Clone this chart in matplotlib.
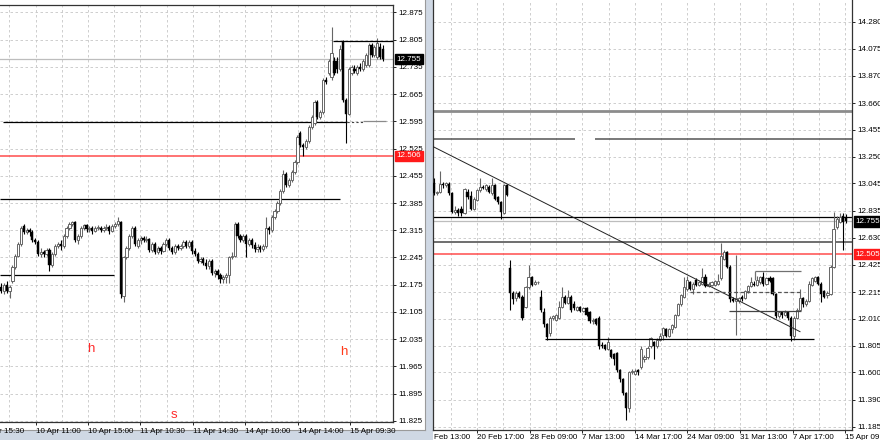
import matplotlib
matplotlib.use("Agg")
import matplotlib.pyplot as plt
from matplotlib.lines import Line2D
from matplotlib.patches import Rectangle
import numpy as np


# ---- left window: intraday candles ----
left_open = [
    12.17, 12.16, 12.175, 12.16, 12.185, 12.22, 12.25, 12.28, 12.325, 12.31,
    12.315, 12.31, 12.29, 12.285, 12.255, 12.26, 12.255, 12.265, 12.225, 12.255,
    12.275, 12.28, 12.275, 12.30, 12.32, 12.33, 12.335, 12.29, 12.30, 12.32,
    12.328, 12.318, 12.32, 12.314, 12.32, 12.322, 12.316, 12.32, 12.324, 12.314,
    12.325, 12.33, 12.335, 12.145, 12.245, 12.27, 12.30, 12.32, 12.275, 12.29,
    12.295, 12.29, 12.292, 12.265, 12.28, 12.26, 12.27, 12.262, 12.28, 12.29,
    12.27, 12.26, 12.275, 12.27, 12.275, 12.285, 12.275, 12.285, 12.262, 12.255,
    12.235, 12.24, 12.232, 12.222, 12.235, 12.205, 12.21, 12.2, 12.19, 12.195,
    12.2, 12.245, 12.25, 12.33, 12.30, 12.29, 12.30, 12.28, 12.29, 12.278,
    12.268, 12.272, 12.268, 12.275, 12.32, 12.315, 12.35, 12.365, 12.385, 12.415,
    12.46, 12.43, 12.445, 12.465, 12.49, 12.565, 12.535, 12.53, 12.545, 12.58,
    12.59, 12.645, 12.605, 12.62, 12.70, 12.72, 12.71, 12.75, 12.75, 12.73,
    12.80, 12.65, 12.615, 12.72, 12.73, 12.72, 12.735, 12.73, 12.74, 12.74,
    12.79, 12.765, 12.76, 12.785, 12.78,
]
left_high = [
    12.18, 12.18, 12.185, 12.175, 12.225, 12.255, 12.285, 12.325, 12.33, 12.32,
    12.32, 12.315, 12.295, 12.29, 12.27, 12.265, 12.27, 12.27, 12.26, 12.28,
    12.285, 12.29, 12.305, 12.325, 12.335, 12.34, 12.34, 12.305, 12.325, 12.33,
    12.332, 12.325, 12.325, 12.325, 12.328, 12.326, 12.325, 12.33, 12.328, 12.33,
    12.335, 12.35, 12.34, 12.25, 12.275, 12.305, 12.325, 12.325, 12.295, 12.30,
    12.30, 12.30, 12.295, 12.285, 12.285, 12.275, 12.275, 12.285, 12.295, 12.295,
    12.275, 12.28, 12.28, 12.28, 12.29, 12.29, 12.29, 12.29, 12.27, 12.26,
    12.245, 12.245, 12.24, 12.24, 12.24, 12.215, 12.215, 12.205, 12.2, 12.205,
    12.25, 12.26, 12.335, 12.335, 12.305, 12.305, 12.305, 12.295, 12.295, 12.285,
    12.28, 12.278, 12.28, 12.35, 12.325, 12.355, 12.37, 12.39, 12.42, 12.47,
    12.465, 12.45, 12.47, 12.495, 12.56, 12.57, 12.54, 12.55, 12.585, 12.61,
    12.65, 12.65, 12.625, 12.705, 12.71, 12.755, 12.837, 12.76, 12.76, 12.79,
    12.805, 12.655, 12.735, 12.74, 12.74, 12.74, 12.745, 12.755, 12.77, 12.795,
    12.795, 12.79, 12.81, 12.795, 12.79,
]
left_low = [
    12.155, 12.15, 12.155, 12.14, 12.18, 12.215, 12.245, 12.275, 12.305, 12.305,
    12.30, 12.285, 12.28, 12.25, 12.245, 12.245, 12.25, 12.21, 12.22, 12.25,
    12.27, 12.265, 12.27, 12.295, 12.315, 12.325, 12.285, 12.28, 12.295, 12.315,
    12.31, 12.31, 12.305, 12.31, 12.315, 12.31, 12.31, 12.315, 12.305, 12.31,
    12.32, 12.325, 12.14, 12.13, 12.24, 12.265, 12.295, 12.275, 12.27, 12.28,
    12.285, 12.285, 12.26, 12.26, 12.255, 12.255, 12.255, 12.26, 12.275, 12.265,
    12.255, 12.255, 12.265, 12.265, 12.27, 12.27, 12.27, 12.255, 12.25, 12.23,
    12.23, 12.225, 12.215, 12.215, 12.2, 12.195, 12.19, 12.18, 12.18, 12.18,
    12.18, 12.24, 12.245, 12.295, 12.285, 12.285, 12.245, 12.275, 12.27, 12.26,
    12.26, 12.26, 12.262, 12.27, 12.305, 12.31, 12.345, 12.36, 12.38, 12.41,
    12.425, 12.425, 12.44, 12.46, 12.485, 12.53, 12.505, 12.525, 12.54, 12.575,
    12.585, 12.60, 12.60, 12.615, 12.69, 12.715, 12.70, 12.715, 12.72, 12.725,
    12.645, 12.54, 12.61, 12.715, 12.72, 12.715, 12.725, 12.725, 12.735, 12.735,
    12.76, 12.76, 12.755, 12.755, 12.75,
]
left_close = [
    12.16, 12.175, 12.16, 12.17, 12.22, 12.25, 12.28, 12.32, 12.31, 12.315,
    12.31, 12.29, 12.285, 12.255, 12.26, 12.255, 12.265, 12.225, 12.255, 12.275,
    12.28, 12.275, 12.30, 12.32, 12.33, 12.335, 12.29, 12.30, 12.32, 12.328,
    12.318, 12.32, 12.314, 12.32, 12.322, 12.316, 12.32, 12.324, 12.314, 12.325,
    12.33, 12.34, 12.15, 12.245, 12.27, 12.30, 12.32, 12.28, 12.29, 12.295,
    12.29, 12.292, 12.265, 12.28, 12.26, 12.27, 12.262, 12.28, 12.29, 12.27,
    12.26, 12.275, 12.27, 12.275, 12.285, 12.275, 12.285, 12.262, 12.255, 12.235,
    12.24, 12.232, 12.222, 12.235, 12.205, 12.21, 12.2, 12.19, 12.195, 12.2,
    12.245, 12.25, 12.33, 12.30, 12.29, 12.30, 12.28, 12.29, 12.278, 12.268,
    12.272, 12.268, 12.275, 12.32, 12.315, 12.35, 12.365, 12.385, 12.415, 12.46,
    12.43, 12.445, 12.465, 12.49, 12.555, 12.535, 12.53, 12.545, 12.58, 12.605,
    12.645, 12.605, 12.62, 12.70, 12.695, 12.75, 12.77, 12.72, 12.73, 12.78,
    12.65, 12.615, 12.73, 12.735, 12.725, 12.735, 12.73, 12.75, 12.765, 12.79,
    12.765, 12.785, 12.795, 12.76, 12.755,
]

# ---- right window: longer-term candles ----
right_open = [
    13.05, 12.97, 12.98, 13.04, 13.03, 13.04, 12.97, 12.83, 12.84, 12.85,
    12.82, 12.98, 12.95, 12.85, 12.92, 12.995, 13.02, 13.00, 13.02, 12.97,
    13.03, 12.94, 12.90, 12.82, 13.03, 12.40, 12.21, 12.17, 12.21, 12.18,
    12.10, 12.25, 12.33, 12.28, 12.29, 12.18, 12.06, 11.97, 11.90, 12.02,
    12.00, 12.02, 12.10, 12.18, 12.13, 12.18, 12.12, 12.08, 12.10, 12.07,
    12.09, 12.06, 11.99, 12.01, 12.02, 11.81, 11.81, 11.78, 11.77, 11.74,
    11.75, 11.62, 11.55, 11.44, 11.33, 11.60, 11.59, 11.62, 11.64, 11.70,
    11.72, 11.80, 11.83, 11.80, 11.85, 11.89, 11.93, 11.88, 11.93, 11.95,
    12.04, 12.12, 12.18, 12.24, 12.29, 12.24, 12.31, 12.27, 12.28, 12.33,
    12.26, 12.27, 12.27, 12.28, 12.32, 12.47, 12.52, 12.41, 12.16, 12.15,
    12.15, 12.18, 12.17, 12.22, 12.26, 12.28, 12.27, 12.29, 12.33, 12.28,
    12.32, 12.32, 12.20, 12.03, 12.06, 12.04, 12.06, 12.02, 11.88, 12.02,
    12.08, 12.17, 12.12, 12.15, 12.27, 12.30, 12.33, 12.28, 12.22, 12.19,
    12.20, 12.41, 12.71, 12.75, 12.80, 12.79,
]
right_high = [
    13.09, 12.99, 13.14, 13.06, 13.06, 13.06, 12.98, 12.87, 12.86, 12.87,
    13.01, 13.00, 12.99, 12.94, 13.00, 13.09, 13.03, 13.04, 13.03, 13.09,
    13.04, 12.95, 12.91, 13.04, 13.04, 12.46, 12.22, 12.22, 12.22, 12.19,
    12.26, 12.42, 12.34, 12.31, 12.30, 12.23, 12.09, 11.98, 12.03, 12.04,
    12.05, 12.15, 12.25, 12.19, 12.23, 12.19, 12.15, 12.11, 12.11, 12.10,
    12.10, 12.07, 12.02, 12.02, 12.03, 11.83, 11.82, 11.87, 11.78, 11.75,
    11.76, 11.63, 11.56, 11.45, 11.61, 11.63, 11.63, 11.63, 11.80, 11.73,
    11.80, 11.87, 11.84, 11.86, 11.90, 11.95, 11.94, 11.94, 11.97, 12.05,
    12.13, 12.20, 12.33, 12.34, 12.30, 12.29, 12.32, 12.30, 12.40, 12.35,
    12.29, 12.30, 12.31, 12.35, 12.59, 12.54, 12.53, 12.42, 12.18, 12.50,
    12.18, 12.19, 12.23, 12.27, 12.33, 12.30, 12.34, 12.34, 12.37, 12.33,
    12.34, 12.33, 12.21, 12.07, 12.07, 12.08, 12.07, 12.03, 12.03, 12.09,
    12.24, 12.18, 12.16, 12.30, 12.33, 12.34, 12.34, 12.29, 12.23, 12.22,
    12.42, 12.83, 12.80, 12.82, 12.82, 12.81,
]
right_low = [
    12.96, 12.96, 12.97, 13.01, 13.02, 12.96, 12.82, 12.81, 12.80, 12.80,
    12.81, 12.93, 12.84, 12.84, 12.91, 12.98, 13.00, 12.99, 12.97, 12.96,
    12.92, 12.89, 12.77, 12.81, 12.95, 12.08, 12.12, 12.15, 12.17, 12.00,
    12.09, 12.24, 12.26, 12.27, 12.28, 12.06, 11.95, 11.85, 11.88, 12.00,
    11.99, 12.01, 12.09, 12.12, 12.12, 12.06, 12.08, 12.07, 12.06, 12.06,
    12.03, 11.98, 11.97, 11.96, 11.78, 11.79, 11.77, 11.77, 11.71, 11.66,
    11.60, 11.53, 11.43, 11.24, 11.30, 11.59, 11.58, 11.58, 11.63, 11.68,
    11.70, 11.79, 11.70, 11.79, 11.84, 11.85, 11.87, 11.87, 11.90, 11.94,
    12.03, 12.11, 12.17, 12.22, 12.23, 12.20, 12.26, 12.26, 12.27, 12.25,
    12.25, 12.26, 12.26, 12.27, 12.31, 12.46, 12.40, 12.14, 12.14, 11.89,
    12.13, 12.15, 12.16, 12.21, 12.25, 12.26, 12.26, 12.28, 12.26, 12.27,
    12.29, 12.19, 12.02, 12.02, 12.02, 12.03, 12.00, 11.84, 11.85, 12.01,
    12.07, 12.10, 12.11, 12.14, 12.26, 12.29, 12.27, 12.14, 12.17, 12.17,
    12.19, 12.40, 12.70, 12.74, 12.54, 12.74,
]
right_close = [
    12.97, 12.98, 13.04, 13.03, 13.05, 12.97, 12.83, 12.84, 12.82, 12.82,
    13.00, 12.94, 12.85, 12.93, 12.995, 13.02, 13.01, 13.03, 12.98, 13.03,
    12.93, 12.90, 12.83, 13.03, 12.96, 12.21, 12.16, 12.21, 12.18, 12.02,
    12.25, 12.33, 12.27, 12.29, 12.292, 12.08, 11.97, 11.87, 12.02, 12.03,
    12.04, 12.10, 12.18, 12.13, 12.18, 12.08, 12.09, 12.10, 12.07, 12.09,
    12.04, 11.99, 12.00, 11.97, 11.80, 11.80, 11.78, 11.83, 11.72, 11.70,
    11.62, 11.55, 11.44, 11.33, 11.60, 11.61, 11.61, 11.60, 11.78, 11.72,
    11.79, 11.86, 11.80, 11.85, 11.88, 11.94, 11.88, 11.93, 11.96, 12.04,
    12.12, 12.19, 12.25, 12.31, 12.24, 12.28, 12.27, 12.29, 12.33, 12.26,
    12.28, 12.29, 12.30, 12.30, 12.49, 12.52, 12.41, 12.16, 12.15, 12.17,
    12.17, 12.16, 12.22, 12.26, 12.29, 12.27, 12.31, 12.33, 12.28, 12.32,
    12.30, 12.20, 12.03, 12.06, 12.04, 12.06, 12.02, 11.88, 12.02, 12.08,
    12.17, 12.12, 12.15, 12.28, 12.32, 12.33, 12.28, 12.20, 12.18, 12.21,
    12.41, 12.70, 12.77, 12.79, 12.75, 12.755,
]

# price scale labels
left_ticks = [12.875, 12.805, 12.735, 12.665, 12.595, 12.525, 12.455, 12.385,
              12.315, 12.245, 12.175, 12.105, 12.035, 11.965, 11.895, 11.825]
right_ticks = [14.280, 14.075, 13.870, 13.660, 13.455, 13.250, 13.045, 12.835,
               12.630, 12.425, 12.215, 12.010, 11.805, 11.600, 11.390, 11.185]

# time scale labels
left_time_labels = ["9 Apr 15:30", "10 Apr 11:00", "10 Apr 15:00", "11 Apr 10:30",
                    "11 Apr 14:30", "14 Apr 10:00", "14 Apr 14:00", "15 Apr 09:30"]
right_time_labels = ["Feb 13:00", "20 Feb 17:00", "28 Feb 09:00", "7 Mar 13:00",
                     "14 Mar 17:00", "24 Mar 09:00", "31 Mar 13:00", "7 Apr 17:00",
                     "15 Apr 09:30"]

# drawn objects: price levels and their bar ranges
left_bid = 12.755
left_red_level = 12.506
left_top_level = (12.802, 116.5)
left_mid_level = (12.592, 0.7, 121.4)
left_mid_tail = (12.597, 127.0, 135.0)
left_low_level = (12.3945, -0.4, 119.0)
left_base_level = (12.200, -0.4, 39.7)

right_bid = 12.755
right_red_level = 12.505
right_gray_top = 13.602
right_gray_pair = (13.388, 46.2, 52.8)
right_trend = ((-0.23, 13.326), (120.0, 11.912))
right_black_level = 12.79
right_gray_level = 12.598
right_support = (11.858, 36.4, 124.6)
right_box_top = (12.378, 12.307, 105.2, 120.3)
right_dashed = (12.213, 83.9, 120.0)
right_box_low = (12.068, 96.7, 120.3)

plt.rcParams["font.family"] = ["Liberation Sans", "DejaVu Sans"]

FRAME = "#cfd8e4"
GRID = "#c6c6c6"
BULL_EDGE = "#666666"
RED = "#ff4d4d"
FS = 5.8

W, H = 880, 440


def draw_candles(ax, o, h, l, c, width):
    o, h, l, c = map(np.asarray, (o, h, l, c))
    x = np.arange(len(c))
    up = c >= o
    ax.vlines(x[up], l[up], h[up], color=BULL_EDGE, lw=0.8, zorder=3)
    ax.vlines(x[~up], l[~up], h[~up], color="black", lw=0.8, zorder=3)
    body = np.maximum(np.abs(c - o), 0.003)
    bottom = np.minimum(o, c)
    ax.bar(x[up], body[up], width, bottom[up], facecolor="white",
           edgecolor=BULL_EDGE, lw=0.7, zorder=4)
    ax.bar(x[~up], body[~up], width, bottom[~up], color="black",
           edgecolor="black", lw=0.3, zorder=4)


def style_axis(ax, yticks, grid_x, label_x, labels, xpad):
    ax.set_axisbelow(True)
    ax.yaxis.tick_right()
    ax.set_yticks(yticks)
    ax.set_yticklabels([f"{v:.3f}" for v in yticks])
    ax.set_xticks(grid_x, minor=True)
    ax.set_xticks(label_x)
    ax.set_xticklabels(labels, ha="left")
    ax.tick_params(axis="y", length=2.2, width=0.6, pad=1.4, labelsize=FS)
    ax.tick_params(axis="x", which="major", length=2.2, width=0.6, pad=xpad,
                   labelsize=FS)
    ax.tick_params(axis="x", which="minor", length=0)
    for which in ("major", "minor"):
        ax.grid(True, which=which, axis="x", color=GRID, lw=0.6,
                linestyle=(0, (3, 3)))
    ax.grid(True, which="major", axis="y", color=GRID, lw=0.6,
            linestyle=(0, (3, 3)))
    for s in ax.spines.values():
        s.set_color("#333333")
        s.set_linewidth(0.9)


def price_tag(ax, price, text, color):
    ax.annotate(text, xy=(1, price), xycoords=("axes fraction", "data"),
                xytext=(2.6, 0), textcoords="offset points", ha="left",
                va="center", color="white", fontsize=FS, zorder=10,
                bbox=dict(boxstyle="square,pad=0.22", fc=color, ec=color))


fig = plt.figure(figsize=(W / 100, H / 100), dpi=100)
fig.patch.set_facecolor(FRAME)
# the two terminal windows sit on the blue-grey workspace
fig.add_artist(Rectangle((0, 10 / H), 425 / W, 430 / H, transform=fig.transFigure,
                         facecolor="white", edgecolor="none", zorder=-10))
fig.add_artist(Line2D([425 / W, 425 / W], [10 / H, 1], transform=fig.transFigure,
                      color="#9a9a9a", lw=0.8, zorder=-9))
fig.add_artist(Line2D([0, 425 / W], [10 / H, 10 / H], transform=fig.transFigure,
                      color="#9a9a9a", lw=0.8, zorder=-9))
fig.add_artist(Rectangle((433 / W, 0), 447 / W, 1, transform=fig.transFigure,
                         facecolor="white", edgecolor="none", zorder=-10))

# ---------------- left window ----------------
L_STEP, L_X0 = 2.85, 1.0


def lpx(px):
    return (px - L_X0) / L_STEP


axl = fig.add_axes([0, 18 / H, 393 / W, 417 / H])
axl.set_facecolor("white")
draw_candles(axl, left_open, left_high, left_low, left_close, 0.78)
axl.set_xlim(lpx(0), lpx(393))
axl.set_ylim(11.8223, 12.8938)
grid_l = [lpx(9.4 + 26.2 * k) for k in range(15)]
style_axis(axl, left_ticks, grid_l, grid_l[1::2], left_time_labels[1:], 2.1)
axl.spines["left"].set_visible(False)
axl.annotate(left_time_labels[0], xy=(lpx(-16.6), 0),
             xycoords=("data", "axes fraction"), xytext=(0, -4.3),
             textcoords="offset points", ha="left", va="top", fontsize=FS,
             annotation_clip=False)

end_l = lpx(393)
axl.axhline(left_bid, color="#bdbdbd", lw=0.9, zorder=2)
axl.axhline(left_red_level, color=RED, lw=1.1, zorder=2)
axl.hlines(left_top_level[0], left_top_level[1], end_l, color="black", lw=0.9, zorder=5)
axl.hlines(left_mid_level[0], left_mid_level[1], left_mid_level[2], color="black", lw=0.9, zorder=2)
axl.hlines(left_mid_level[0], left_mid_level[2], left_mid_tail[1], color="#444444",
           lw=0.8, linestyle=(0, (2, 2)), zorder=2)
axl.hlines(left_mid_tail[0], left_mid_tail[1], left_mid_tail[2], color="#8a8a8a", lw=0.9, zorder=2)
axl.hlines(left_low_level[0], left_low_level[1], left_low_level[2], color="black", lw=0.9, zorder=2)
axl.hlines(left_base_level[0], left_base_level[1], left_base_level[2], color="black", lw=0.9, zorder=2)

axl.text(lpx(91), 12.010, "h", color="#ff2a2a", fontsize=9.5, ha="center", va="center")
axl.text(lpx(343.5), 12.002, "h", color="#ff3a1a", fontsize=9.5, ha="center", va="center")
axl.text(lpx(173.5), 11.840, "s", color="#ff2a2a", fontsize=9.5, ha="center", va="center")

price_tag(axl, left_bid, "12.755", "black")
price_tag(axl, left_red_level, "12.506", "#ff1a1a")

# ---------------- right window ----------------
R_STEP, R_X0 = 3.05, 434.0


def rpx(px):
    return (px - R_X0) / R_STEP


axr = fig.add_axes([433 / W, 10 / H, 419 / W, 430 / H])
axr.set_facecolor("white")
draw_candles(axr, right_open, right_high, right_low, right_close, 0.72)
axr.set_xlim(rpx(433), rpx(852))
axr.set_ylim(11.160, 14.448)
grid_r = [rpx(450.7 + 26.3 * k) for k in range(16)]
style_axis(axr, right_ticks, grid_r, grid_r[1::2], right_time_labels[1:], 0.8)
axr.spines["top"].set_visible(False)
axr.annotate(right_time_labels[0], xy=(rpx(434), 0),
             xycoords=("data", "axes fraction"), xytext=(0, -3.0),
             textcoords="offset points", ha="left", va="top", fontsize=FS,
             annotation_clip=False)

end_r = rpx(852)
start_r = rpx(433)
axr.axhline(right_gray_top, color="#8c8c8c", lw=2.0, zorder=2)
axr.hlines(right_gray_pair[0], start_r, right_gray_pair[1], color="#555555", lw=1.1, zorder=2)
axr.hlines(right_gray_pair[0], right_gray_pair[2], end_r, color="#555555", lw=1.1, zorder=2)
(tx0, ty0), (tx1, ty1) = right_trend
axr.plot([tx0, tx1], [ty0, ty1], color="#222222", lw=0.7, zorder=5)
axr.axhline(right_black_level, color="black", lw=0.9, zorder=2)
axr.axhline(right_bid, color="#bdbdbd", lw=0.9, zorder=2)
axr.axhline(right_gray_level, color="#6e6e6e", lw=1.4, zorder=2)
axr.axhline(right_red_level, color=RED, lw=1.1, zorder=2)
axr.hlines(right_support[0], right_support[1], right_support[2], color="black", lw=0.9, zorder=5)
axr.hlines(right_box_top[0], right_box_top[2], right_box_top[3], color="#707070", lw=0.9, zorder=5)
axr.vlines(right_box_top[2], right_box_top[1], right_box_top[0], color="#707070", lw=0.9, zorder=5)
axr.hlines(right_dashed[0], right_dashed[1], right_dashed[2], color="#555555", lw=0.9,
           linestyle=(0, (3, 2)), zorder=5)
axr.hlines(right_box_low[0], right_box_low[1], right_box_low[2], color="#444444", lw=0.9, zorder=5)

price_tag(axr, right_bid, "12.755", "black")
price_tag(axr, right_red_level, "12.505", "#ff1a1a")

fig.savefig("out.png", dpi=100, facecolor=fig.get_facecolor())
